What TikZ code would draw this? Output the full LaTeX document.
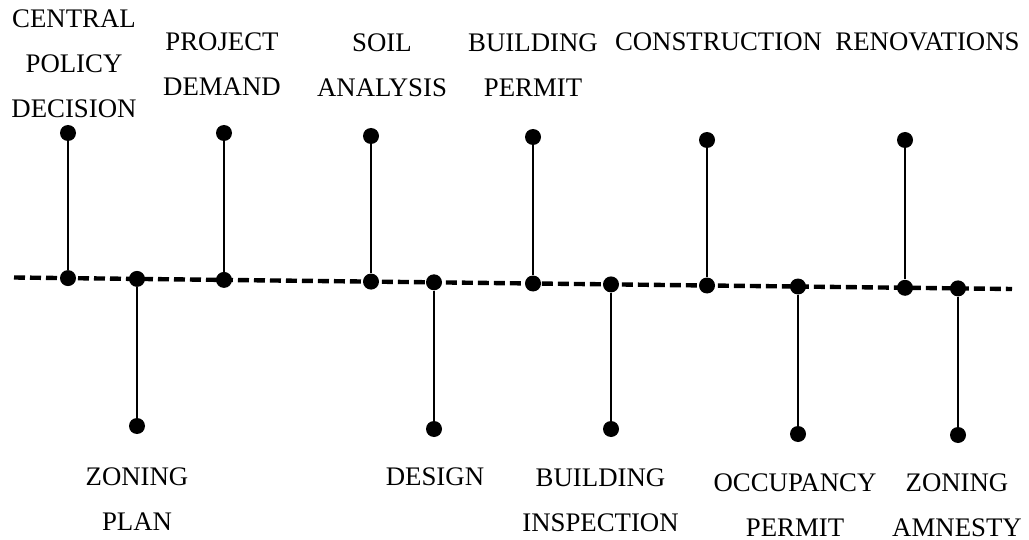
\documentclass[tikz,border=0pt]{standalone}
\usepackage{fontspec}
\setmainfont{Liberation Serif}
\begin{document}
\begin{tikzpicture}[x=0.5pt,y=-0.5pt,
  bullet/.style={circle,fill=black,inner sep=0pt,minimum size=8pt},
  stem/.style={line width=0.65pt},
  track/.style={line width=2.2pt,dash pattern=on 5.5pt off 2.5pt},
  lbl/.style={anchor=north,align=center,inner sep=0pt,
              font=\fontsize{13.4pt}{22.5pt}\selectfont}]
\useasboundingbox (0,0) rectangle (1029,540);

% timeline
\coordinate (L0) at (14,277.5);
\coordinate (L1) at (1012,289);
\draw[track] (L0) -- (L1);

% points on the timeline
\node[bullet] (a1)  at (68,278.1) {};
\node[bullet] (b1)  at (137,278.9) {};
\node[bullet] (a2)  at (224,279.9) {};
\node[bullet] (a3)  at (371,281.6) {};
\node[bullet] (b2)  at (434,282.3) {};
\node[bullet] (a4)  at (533,283.5) {};
\node[bullet] (b3)  at (611,284.4) {};
\node[bullet] (a5)  at (707,285.5) {};
\node[bullet] (b4)  at (798,286.5) {};
\node[bullet] (a6)  at (905,287.8) {};
\node[bullet] (b5)  at (958,288.4) {};

% upper stem ends
\node[bullet] (ta1) at (68,133) {};
\node[bullet] (ta2) at (224,133) {};
\node[bullet] (ta3) at (371,136) {};
\node[bullet] (ta4) at (533,137) {};
\node[bullet] (ta5) at (707,140) {};
\node[bullet] (ta6) at (905,140) {};

% lower stem ends
\node[bullet] (tb1) at (137,426) {};
\node[bullet] (tb2) at (434,429) {};
\node[bullet] (tb3) at (611,429) {};
\node[bullet] (tb4) at (798,434) {};
\node[bullet] (tb5) at (958,435) {};

% stems
\draw[stem] (ta1) -- (a1);
\draw[stem] (ta2) -- (a2);
\draw[stem] (ta3) -- (a3);
\draw[stem] (ta4) -- (a4);
\draw[stem] (ta5) -- (a5);
\draw[stem] (ta6) -- (a6);
\draw[stem] (b1) -- (tb1);
\draw[stem] (b2) -- (tb2);
\draw[stem] (b3) -- (tb3);
\draw[stem] (b4) -- (tb4);
\draw[stem] (b5) -- (tb5);

% upper labels
\node[lbl] (l1) at (74,9)     {CENTRAL\\POLICY\\DECISION};
\node[lbl] (l2) at (222,32)   {PROJECT\\DEMAND};
\node[lbl] (l3) at (382,33)   {SOIL\\ANALYSIS};
\node[lbl] (l4) at (533,33)   {BUILDING\\PERMIT};
\node[lbl] (l5) at (718.5,32) {CONSTRUCTION};
\node[lbl] (l6) at (927.5,32) {RENOVATIONS};

% lower labels
\node[lbl] (m1) at (137,467)   {ZONING\\PLAN};
\node[lbl] (m2) at (435,467)   {DESIGN};
\node[lbl] (m3) at (600.5,468) {BUILDING\\INSPECTION};
\node[lbl] (m4) at (795,473)   {OCCUPANCY\\PERMIT};
\node[lbl] (m5) at (957,473)   {ZONING\\AMNESTY};
\end{tikzpicture}
\end{document}
